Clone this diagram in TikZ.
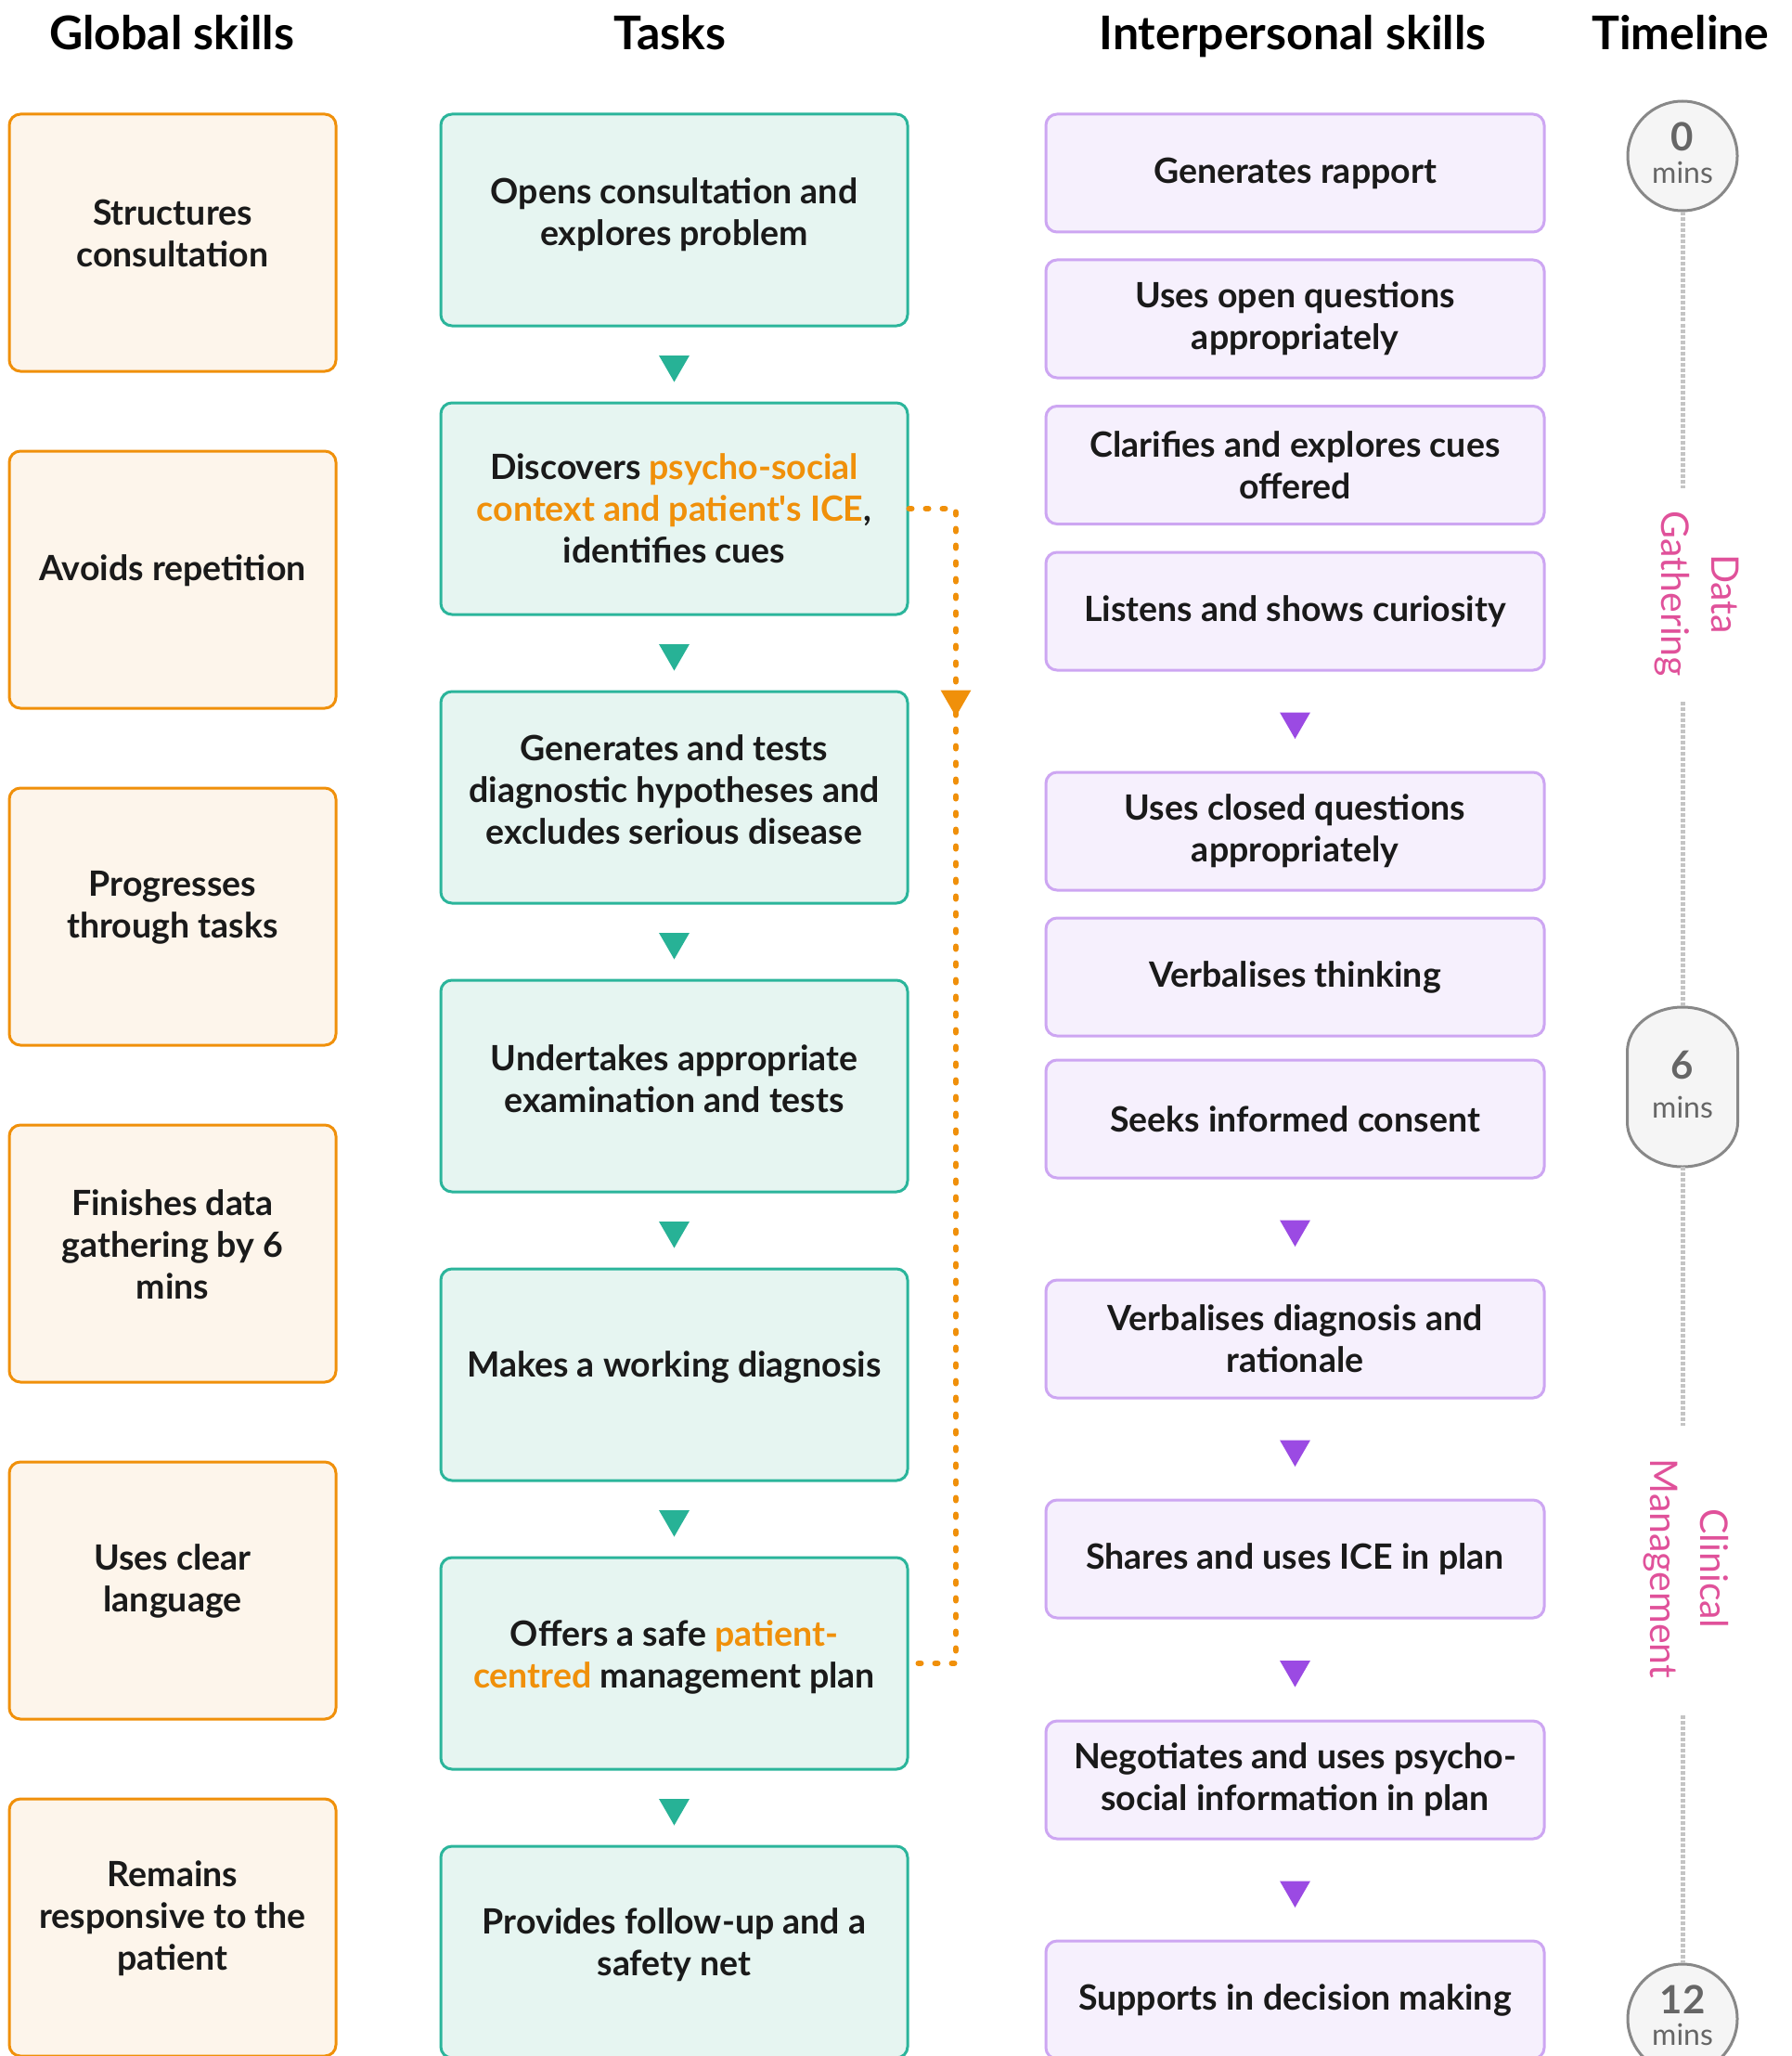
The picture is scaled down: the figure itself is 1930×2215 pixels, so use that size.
\documentclass[tikz,border=0pt]{standalone}
\usepackage{fontspec}
\setmainfont{Lato}[Ligatures=TeXOff]
\usetikzlibrary{shapes.geometric}
\definecolor{gborder}{HTML}{F0900A}
\definecolor{gfill}{HTML}{FDF5EB}
\definecolor{tborder}{HTML}{2BB59B}
\definecolor{tfill}{HTML}{E6F5F1}
\definecolor{ttri}{HTML}{27B296}
\definecolor{pborder}{HTML}{CDA6F2}
\definecolor{pfill}{HTML}{F6F0FD}
\definecolor{ptri}{HTML}{9B4AE3}
\definecolor{pink}{HTML}{E0519A}
\definecolor{ink}{HTML}{1A1A1A}
\definecolor{hl}{HTML}{F0900A}
\definecolor{cfill}{HTML}{F5F5F5}
\definecolor{cline}{HTML}{888888}
\definecolor{ctext}{HTML}{666666}
\definecolor{tline}{HTML}{C4C4C4}
\begin{document}
\begin{tikzpicture}[x=1pt,y=-1pt,
  box/.style={draw, line width=3pt, rounded corners=12pt, inner sep=0pt},
  gbox/.style={box, draw=gborder, fill=gfill, minimum width=352pt, minimum height=277pt},
  tbox/.style={box, draw=tborder, fill=tfill, minimum width=503pt, minimum height=228pt},
  pbox/.style={box, draw=pborder, fill=pfill, minimum width=537pt, minimum height=127pt,
    font=\bfseries\fontsize{37.5}{45}\selectfont, align=center, text=ink},
  txt/.style={font=\bfseries\fontsize{37.5}{45}\selectfont, align=center, text=ink, inner sep=0pt},
  hdr/.style={font=\bfseries\fontsize{50}{60}\selectfont, anchor=base, text=black, inner sep=0pt},
  tritri/.style={regular polygon, regular polygon sides=3, shape border rotate=180,
    minimum size=38pt, inner sep=0pt, draw=none},
  ttrig/.style={tritri, fill=ttri},
  ptrig/.style={tritri, fill=ptri},
  otrig/.style={tritri, fill=gborder},
  odot/.style={draw=gborder, line width=6pt, line cap=round, dash pattern=on 3pt off 15pt},
  tdash/.style={draw=tline, line width=5pt, dash pattern=on 4pt off 2pt},
  tcirc/.style={draw=cline, fill=cfill, line width=3pt, inner sep=0pt},
  tnum/.style={font=\bfseries\fontsize{42}{48}\selectfont, text=ctext, anchor=base, inner sep=0pt},
  tmins/.style={font=\fontsize{32}{36}\selectfont, text=ctext, anchor=base, inner sep=0pt},
  plabel/.style={font=\fontsize{41}{54}\selectfont, text=pink, align=center, rotate=-90, inner sep=0pt}
]
\useasboundingbox[fill=white] (0,0) rectangle (1930,2215);

% headers
\node[hdr] (h1) at (185,54) {Global skills};
\node[hdr] (h2) at (722,54) {Tasks};
\node[hdr] (h3) at (1393,54) {Interpersonal skills};
\node[hdr] (h4) at (1811,54) {Timeline};

% global skills
\node[gbox] (g1) at (186,261.5) {};
\node[gbox] (g2) at (186,624.5) {};
\node[gbox] (g3) at (186,987.5) {};
\node[gbox] (g4) at (186,1350.5) {};
\node[gbox] (g5) at (186,1713.5) {};
\node[gbox] (g6) at (186,2076.5) {};
\node[txt] (g1t) at ([yshift=10pt]g1.center) {Structures\\consultation};
\node[txt] (g2t) at ([yshift=10pt]g2.center) {Avoids repetition};
\node[txt] (g3t) at ([yshift=10pt]g3.center) {Progresses\\through tasks};
\node[txt] (g4t) at ([yshift=10pt]g4.center) {Finishes data\\gathering by 6\\mins};
\node[txt] (g5t) at ([yshift=10pt]g5.center) {Uses clear\\language};
\node[txt] (g6t) at ([yshift=10pt]g6.center) {Remains\\responsive to the\\patient};

% tasks
\node[tbox] (t1) at (726.5,237) {};
\node[tbox] (t2) at (726.5,548) {};
\node[tbox] (t3) at (726.5,859) {};
\node[tbox] (t4) at (726.5,1170) {};
\node[tbox] (t5) at (726.5,1481) {};
\node[tbox] (t6) at (726.5,1792) {};
\node[tbox] (t7) at (726.5,2103) {};
\node[txt] (t1t) at ([yshift=6pt]t1.center) {Opens consultation and\\explores problem};
\node[txt] (t2t) at ([yshift=0pt]t2.center) {Discovers \textcolor{hl}{psycho-social}\\\textcolor{hl}{context and patient's ICE},\\identifies cues};
\node[txt] (t3t) at ([yshift=8pt]t3.center) {Generates and tests\\diagnostic hypotheses and\\excludes serious disease};
\node[txt] (t4t) at ([yshift=8pt]t4.center) {Undertakes appropriate\\examination and tests};
\node[txt] (t5t) at ([yshift=8pt]t5.center) {Makes a working diagnosis};
\node[txt] (t6t) at ([yshift=7pt]t6.center) {Offers a safe \textcolor{hl}{patient-}\\\textcolor{hl}{centred} management plan};
\node[txt] (t7t) at ([yshift=8pt]t7.center) {Provides follow-up and a\\safety net};

\foreach \a/\b in {t1/t2,t2/t3,t3/t4,t4/t5,t5/t6,t6/t7}
  \path (\a.south) -- (\b.north) node[midway, ttrig] (\a\b) {};

% interpersonal skills
\node[pbox] (p1) at (1395.5,186.5) {Generates rapport};
\node[pbox] (p2) at (1395.5,343.5) {Uses open questions\\appropriately};
\node[pbox] (p3) at (1395.5,501) {Clarifies and explores cues\\offered};
\node[pbox] (p4) at (1395.5,658.5) {Listens and shows curiosity};
\node[pbox] (p5) at (1395.5,895.5) {Uses closed questions\\appropriately};
\node[pbox] (p6) at (1395.5,1052.5) {Verbalises thinking};
\node[pbox] (p7) at (1395.5,1205.5) {Seeks informed consent};
\node[pbox] (p8) at (1395.5,1442.5) {Verbalises diagnosis and\\rationale};
\node[pbox] (p9) at (1395.5,1679.5) {Shares and uses ICE in plan};
\node[pbox] (p10) at (1395.5,1917.5) {Negotiates and uses psycho-\\social information in plan};
\node[pbox] (p11) at (1395.5,2154.5) {Supports in decision making};

\foreach \a/\b in {p4/p5,p7/p8,p8/p9,p9/p10,p10/p11}
  \path (\a.south) -- (\b.north) node[midway, ptrig] (\a\b) {};

% orange dotted connector
\coordinate (ox) at (1030,0);
\draw[odot] (t2.east) -- (t2.east -| ox) -- (t6.east -| ox) -- (t6.east);
\node[otrig] (oarrow) at (1030,753) {};

% timeline
\node[tcirc, circle, minimum size=118pt] (c0) at (1813,168) {};
\node[inner sep=0pt, minimum width=119pt, minimum height=172pt] (c6) at (1813,1171) {};
\draw[tcirc] (1753.5,1133) arc[start angle=180, end angle=360, x radius=59.5, y radius=48]
  -- (1872.5,1209) arc[start angle=0, end angle=180, x radius=59.5, y radius=48] -- cycle;
\node[tcirc, circle, minimum size=118pt] (c12) at (1813,2175) {};
\node[tnum] (c0n) at (1813,163) {0};
\node[tmins] (c0m) at (1813,198) {mins};
\node[tnum] (c6n) at (1813,1162) {6};
\node[tmins] (c6m) at (1813,1204) {mins};
\node[tnum] (c12n) at (1813,2169) {12};
\node[tmins] (c12m) at (1813,2203) {mins};

\coordinate (l1) at (1813,526);
\coordinate (l2) at (1813,756);
\coordinate (l3) at (1813,1536);
\coordinate (l4) at (1813,1848);
\draw[tdash] (c0.south) -- (l1);
\draw[tdash] (l2) -- (c6.north);
\draw[tdash] (c6.south) -- (l3);
\draw[tdash] (l4) -- (c12.north);

\node[plabel] (dg) at (1828,640) {Data\\Gathering};
\node[plabel] (cm) at (1817,1690) {Clinical\\Management};
\end{tikzpicture}
\end{document}
